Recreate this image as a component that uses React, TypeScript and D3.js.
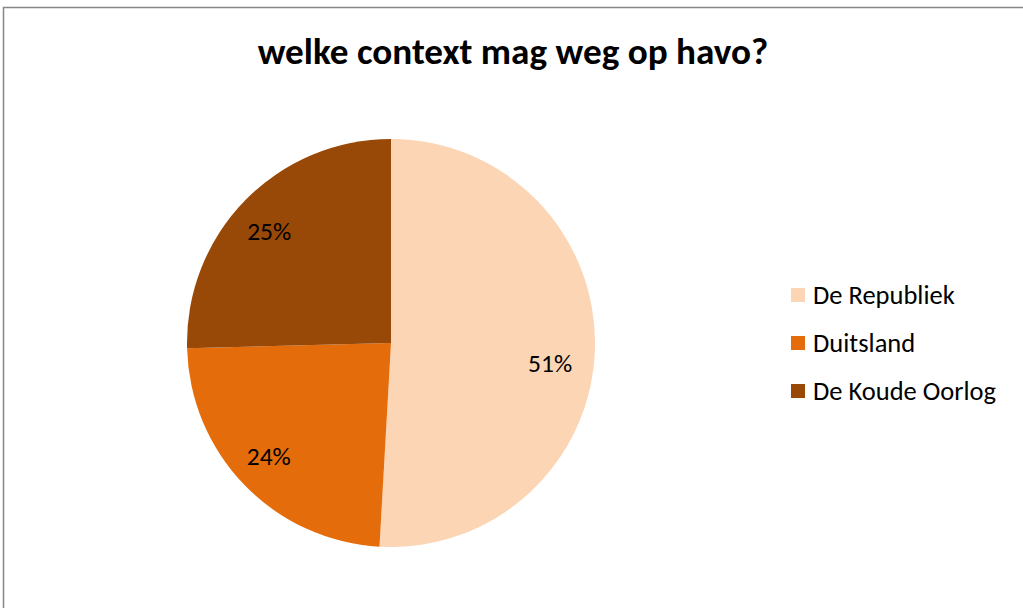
import * as d3 from "d3";
import { useRef, useEffect } from "react";

const categories = ["De Republiek", "Duitsland", "De Koude Oorlog"];
const values = [50.9, 23.7, 25.4];
const colors = ["#FCD5B5", "#E46C0A", "#984807"];
const title = "welke context mag weg op havo?";

const FONT = "Carlito, 'Open Sans', 'Liberation Sans', sans-serif";

// small nudges so the data labels sit where the original placed them
const labelNudge = [[-4, 15], [-5, 0], [-5, 2]];

const App = () => {
  const ref = useRef<SVGSVGElement>(null);

  useEffect(() => {
    const svg = d3.select(ref.current);
    svg.selectAll("*").remove();

    const width = 1023;
    const height = 608;
    const cx = 391;
    const cy = 343;
    const radius = 204;

    svg.append("rect")
      .attr("width", width)
      .attr("height", height)
      .attr("fill", "#fff");

    // chart area border (runs off right and bottom)
    svg.append("rect")
      .attr("x", 3.5)
      .attr("y", 7.5)
      .attr("width", width + 20)
      .attr("height", height + 20)
      .attr("fill", "none")
      .attr("stroke", "#868686")
      .attr("stroke-width", 1.5);

    svg.append("text")
      .attr("x", 513)
      .attr("y", 64)
      .attr("text-anchor", "middle")
      .style("font-family", FONT)
      .style("font-weight", "bold")
      .style("font-size", "37.2px")
      .attr("fill", "#000")
      .text(title);

    const data = categories.map((c, i) => ({ name: c, value: values[i], color: colors[i] }));
    const total = d3.sum(values);

    const pie = d3.pie<any>().sort(null).value((d) => d.value);
    const arc = d3.arc<any>().innerRadius(0).outerRadius(radius);
    const labelArc = d3.arc<any>().innerRadius(radius * 0.8).outerRadius(radius * 0.8);

    const g = svg.append("g").attr("transform", `translate(${cx},${cy})`);
    const arcs = pie(data);

    g.selectAll("path")
      .data(arcs)
      .join("path")
      .attr("d", arc)
      .attr("fill", (d) => d.data.color);

    g.selectAll("text")
      .data(arcs)
      .join("text")
      .attr("x", (d, i) => labelArc.centroid(d)[0] + labelNudge[i][0])
      .attr("y", (d, i) => labelArc.centroid(d)[1] + labelNudge[i][1])
      .attr("dy", "0.35em")
      .attr("text-anchor", "middle")
      .style("font-family", FONT)
      .style("font-size", "25.5px")
      .attr("fill", "#000")
      .text((d) => `${Math.round((d.data.value / total) * 100)}%`);

    // legend
    const legend = svg.append("g").attr("transform", "translate(791,295)");
    const rows = legend.selectAll("g")
      .data(data)
      .join("g")
      .attr("transform", (_d, i) => `translate(0,${i * 48})`);

    rows.append("rect")
      .attr("x", 0)
      .attr("y", -7)
      .attr("width", 14)
      .attr("height", 14)
      .attr("fill", (d) => d.color);

    rows.append("text")
      .attr("x", 22)
      .attr("y", 0)
      .attr("dy", "0.35em")
      .style("font-family", FONT)
      .style("font-size", "26.5px")
      .attr("fill", "#000")
      .text((d) => d.name);
  }, []);

  return (
    <svg
      ref={ref}
      width={1023}
      height={608}
      style={{ position: "absolute", left: 0, top: 0 }}
    />
  );
};

export default App;
